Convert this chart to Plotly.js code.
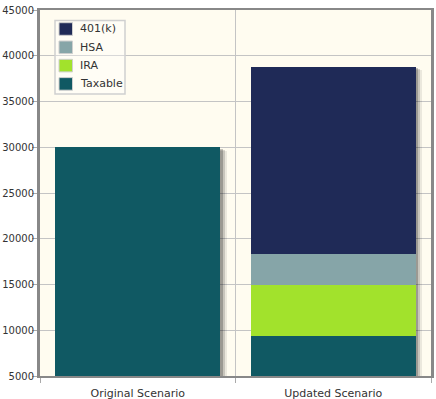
<!DOCTYPE html>
<html><head><meta charset="utf-8">
<script src="https://cdn.plot.ly/plotly-3.0.1.min.js"></script>
<style>body{margin:0;background:#fff}#c{width:436px;height:399px}</style>
</head><body><div id="c"></div>
<script>
const categories = ["Original Scenario", "Updated Scenario"];
const seriesNames = ["Taxable", "IRA", "HSA", "401(k)"];
const taxable = [30000, 9400];
const ira = [0, 5600];
const hsa = [0, 3300];
const k401 = [0, 20500];
const colors = ["#105963", "#A2E22C", "#86A5A8", "#1F2A57"];
const yTicks = [5000,10000,15000,20000,25000,30000,35000,40000,45000];

const series = [taxable, ira, hsa, k401];
const W = 0.846;
const traces = [];
const totals = categories.map((_, i) => series.reduce((s, a) => s + a[i], 0));
[0.012, 0.022, 0.032].forEach((dx, k) => {
  traces.push({
    type: 'bar', x: categories, y: totals.map(t => t - 150 - k*120), base: 0,
    offset: -W/2 + dx, width: W, showlegend: false, hoverinfo: 'skip',
    marker: {color: 'rgba(0,0,0,' + [0.22,0.15,0.08][k] + ')', line: {width: 0}}
  });
});
const cum = categories.map(() => 0);
series.forEach((arr, s) => {
  traces.push({
    type: 'bar', name: seriesNames[s], x: categories, y: arr,
    base: cum.slice(), offset: -W/2, width: W, showlegend: false,
    marker: {color: colors[s], line: {width: 0}}
  });
  arr.forEach((v, i) => cum[i] += v);
});

// custom legend (paper coordinates, plot area 40..431 x 10..376 px)
const PL = 40, PR = 431, PT = 10, PB = 376;
const px = x => (x - PL) / (PR - PL);
const py = y => (PB - y) / (PB - PT);
const shapes = [{
  type: 'rect', xref: 'paper', yref: 'paper',
  x0: px(55), x1: px(125), y0: py(94), y1: py(20.5),
  fillcolor: 'rgba(255,255,255,0.35)', line: {color: '#d0d0d0', width: 1.5}
}];
const annotations = [];
const order = [3, 2, 1, 0];
order.forEach((s, j) => {
  const cy = 29 + j * 18.3;
  shapes.push({
    type: 'rect', xref: 'paper', yref: 'paper',
    x0: px(59), x1: px(72.5), y0: py(cy + 6.3), y1: py(cy - 6.3),
    fillcolor: colors[s], line: {color: '#cfcfcf', width: 1}
  });
  annotations.push({
    xref: 'paper', yref: 'paper', x: px(77.5), y: py(cy), xanchor: 'left', yanchor: 'middle',
    text: seriesNames[s], showarrow: false, font: {size: 11, color: '#333'}
  });
});

const layout = {
  width: 436, height: 399,
  margin: {l: PL, r: 436 - PR, t: PT, b: 399 - PB},
  barmode: 'overlay', showlegend: false,
  paper_bgcolor: '#ffffff', plot_bgcolor: '#FFFCF0',
  font: {family: 'DejaVu Sans, sans-serif', size: 10, color: '#333'},
  xaxis: {
    type: 'category', tickson: 'boundaries', ticks: 'outside', ticklen: 5, tickcolor: '#aaa',
    showgrid: true, gridcolor: '#c4c4c4', gridwidth: 1,
    showline: true, linecolor: '#888', linewidth: 2, mirror: true,
    tickfont: {size: 11, color: '#333'}, range: [-0.5, 1.5], ticklabelstandoff: 6
  },
  yaxis: {
    range: [5000, 45000], tickvals: yTicks, ticktext: yTicks.map(String),
    ticks: 'outside', ticklen: 5, tickcolor: '#aaa',
    showgrid: true, gridcolor: '#c4c4c4', gridwidth: 1, zeroline: false,
    showline: true, linecolor: '#888', linewidth: 3, mirror: true,
    tickfont: {size: 10, color: '#333'}, ticklabelstandoff: -4
  },
  shapes: shapes, annotations: annotations,
  bargap: 0
};
Plotly.newPlot('c', traces, layout, {displayModeBar: false, staticPlot: true});
</script></body></html>
